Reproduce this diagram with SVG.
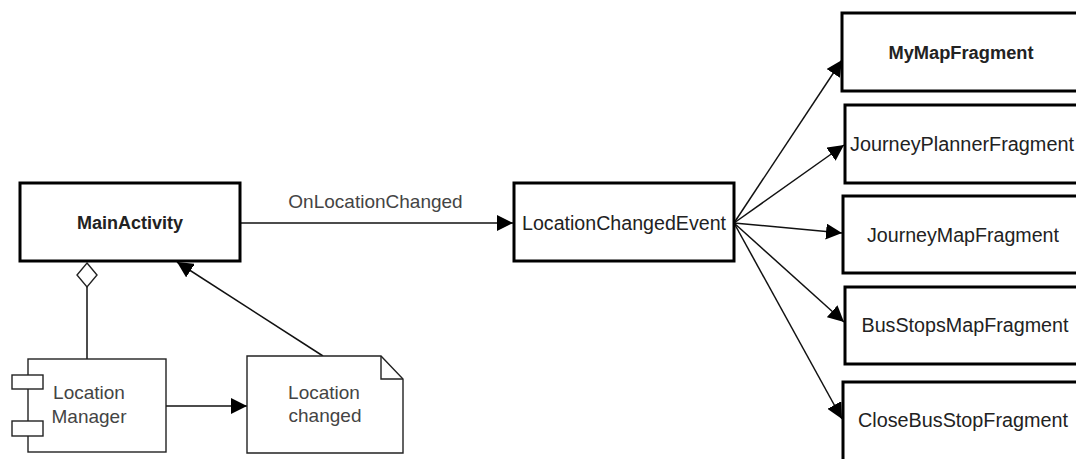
<svg xmlns="http://www.w3.org/2000/svg" width="1076" height="459" viewBox="0 0 1076 459">
<style>
.box{fill:#fff;stroke:#000;stroke-width:3}
.thin{fill:#fff;stroke:#222;stroke-width:1.4}
.lbl{font-family:"Liberation Sans",Arial,sans-serif;font-size:19.5px;fill:#222;text-anchor:middle}
.b{font-weight:bold;font-size:18px}
.lt{font-family:"Liberation Sans",Arial,sans-serif;font-size:19px;fill:#444;text-anchor:middle}
.edge{fill:none;stroke:#111;stroke-width:1.5}
</style>
<defs>
<marker id="arr" viewBox="0 0 16 16" refX="16" refY="8" markerWidth="16" markerHeight="16" markerUnits="userSpaceOnUse" orient="auto">
<path d="M0,0 L16,8 L0,16 Z" fill="#000"/>
</marker>
</defs>
<g id="connectors">
<line class="edge" x1="240" y1="223" x2="513" y2="223" marker-end="url(#arr)"/>
<text class="lt" x="375.5" y="208">OnLocationChanged</text>
<line class="edge" x1="734" y1="223" x2="842" y2="60" marker-end="url(#arr)"/>
<line class="edge" x1="734" y1="223" x2="844" y2="145" marker-end="url(#arr)"/>
<line class="edge" x1="734" y1="223" x2="842" y2="233" marker-end="url(#arr)"/>
<line class="edge" x1="734" y1="223" x2="844" y2="322" marker-end="url(#arr)"/>
<line class="edge" x1="734" y1="223" x2="842" y2="419" marker-end="url(#arr)"/>
<line class="edge" x1="87" y1="287" x2="87" y2="359"/>
<path d="M87,263 L97,275 L87,287 L77,275 Z" fill="#fff" stroke="#222" stroke-width="1.4"/>
<line class="edge" x1="166" y1="406" x2="247" y2="406" marker-end="url(#arr)"/>
<line class="edge" x1="323" y1="356" x2="177" y2="262" marker-end="url(#arr)"/>
</g>
<g id="MainActivity">
<rect class="box" x="20" y="183" width="220" height="78"/>
<text class="lbl b" x="130" y="229">MainActivity</text>
</g>
<g id="LocationChangedEvent">
<rect class="box" x="514" y="183" width="220" height="78"/>
<text class="lbl" x="624" y="230" textLength="204" lengthAdjust="spacingAndGlyphs">LocationChangedEvent</text>
</g>
<g id="MyMapFragment">
<rect class="box" x="842" y="13" width="240" height="78"/>
<text class="lbl b" x="961" y="59" textLength="145" lengthAdjust="spacingAndGlyphs">MyMapFragment</text>
</g>
<g id="JourneyPlannerFragment">
<rect class="box" x="845" y="105" width="240" height="78"/>
<text class="lbl" x="962" y="151" textLength="224" lengthAdjust="spacingAndGlyphs">JourneyPlannerFragment</text>
</g>
<g id="JourneyMapFragment">
<rect class="box" x="843" y="196" width="240" height="77"/>
<text class="lbl" x="963" y="242" textLength="192" lengthAdjust="spacingAndGlyphs">JourneyMapFragment</text>
</g>
<g id="BusStopsMapFragment">
<rect class="box" x="845" y="287" width="240" height="77"/>
<text class="lbl" x="965" y="332" textLength="207" lengthAdjust="spacingAndGlyphs">BusStopsMapFragment</text>
</g>
<g id="CloseBusStopFragment">
<rect class="box" x="843" y="382" width="240" height="80"/>
<text class="lbl" x="963" y="427" textLength="210" lengthAdjust="spacingAndGlyphs">CloseBusStopFragment</text>
</g>
<g id="LocationManager">
<rect class="thin" x="28" y="359" width="138" height="93"/>
<rect class="thin" x="12" y="375" width="31" height="14"/>
<rect class="thin" x="12" y="421" width="31" height="15"/>
<text class="lt" x="89" y="399">Location</text>
<text class="lt" x="89" y="423">Manager</text>
</g>
<g id="LocationChanged">
<path class="thin" d="M247,356 L381,356 L403,379 L403,453 L247,453 Z"/>
<path d="M381,356 L381,379 L403,379" fill="none" stroke="#222" stroke-width="1.4"/>
<text class="lt" x="324" y="399">Location</text>
<text class="lt" x="325" y="422">changed</text>
</g>
</svg>
